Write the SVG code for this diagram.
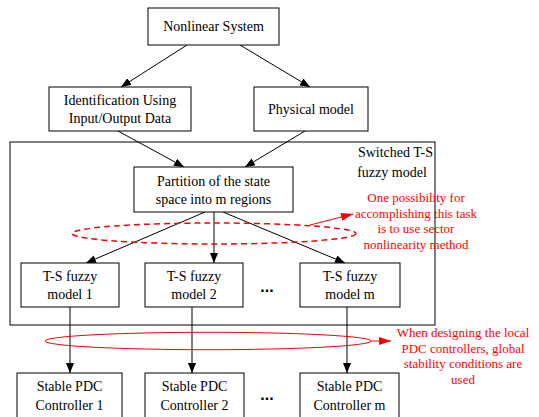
<svg xmlns="http://www.w3.org/2000/svg" width="539" height="417" viewBox="0 0 539 417">
<style>
.box{fill:#fff;stroke:#000;stroke-width:1}
.t{font-family:'Liberation Serif','DejaVu Serif',Tinos,serif;font-size:14px;fill:#000;text-anchor:middle}
.r{font-family:'Liberation Serif','DejaVu Serif',Tinos,serif;font-size:13px;fill:#ff0000;text-anchor:middle}
.c{stroke:#000;stroke-width:1;fill:none;marker-end:url(#ah)}
.dots{font-family:'Liberation Sans',Arial,sans-serif;font-size:16px;font-weight:bold;text-anchor:middle}
</style>
<defs>
<marker id="ah" markerWidth="10" markerHeight="8" refX="10" refY="4" orient="auto" markerUnits="userSpaceOnUse">
<path d="M0,0 L10,4 L0,8 Z" fill="#000"/>
</marker>
<marker id="rh" markerWidth="12" markerHeight="8" refX="12" refY="4" orient="auto" markerUnits="userSpaceOnUse">
<path d="M0,0 L12,4 L0,8 Z" fill="#ff0000"/>
</marker>
</defs>
<rect width="539" height="417" fill="#fff"/>
<g id="container">
<rect x="10" y="142" width="425" height="183" fill="none" stroke="#000"/>
<text class="t" x="433" y="157" style="text-anchor:end">Switched T-S</text>
<text class="t" x="392" y="177">fuzzy model</text>
</g>
<g id="connectors">
<line class="c" x1="187" y1="45" x2="121" y2="87"/>
<line class="c" x1="240" y1="45" x2="310" y2="87"/>
<line class="c" x1="118" y1="131" x2="184" y2="167"/>
<line class="c" x1="305" y1="131" x2="245" y2="167"/>
<line class="c" x1="205" y1="212" x2="86" y2="263"/>
<line class="c" x1="214" y1="212" x2="214" y2="263"/>
<line class="c" x1="223" y1="212" x2="345" y2="263"/>
<line class="c" x1="70" y1="307" x2="70" y2="373"/>
<line class="c" x1="192" y1="307" x2="192" y2="373"/>
<line class="c" x1="347" y1="307" x2="347" y2="373"/>
</g>
<g id="n-nonlinear"><rect class="box" x="148" y="8" width="131" height="37"/><text class="t" x="213.5" y="31">Nonlinear System</text></g>
<g id="n-ident"><rect class="box" x="49" y="87" width="142" height="44"/><text class="t" x="120" y="105">Identification Using</text><text class="t" x="120" y="123">Input/Output Data</text></g>
<g id="n-phys"><rect class="box" x="254" y="87" width="114" height="44"/><text class="t" x="311" y="114">Physical model</text></g>
<g id="n-partition"><rect class="box" x="134" y="167" width="159" height="45"/><text class="t" x="213.5" y="186">Partition of the state</text><text class="t" x="213.5" y="204">space into m regions</text></g>
<g id="n-ts1"><rect class="box" x="21" y="263" width="98" height="44"/><text class="t" x="70" y="281">T-S fuzzy</text><text class="t" x="70" y="299">model 1</text></g>
<g id="n-ts2"><rect class="box" x="145" y="263" width="98" height="44"/><text class="t" x="194" y="281">T-S fuzzy</text><text class="t" x="194" y="299">model 2</text></g>
<g id="n-tsm"><rect class="box" x="300" y="263" width="100" height="44"/><text class="t" x="350" y="281">T-S fuzzy</text><text class="t" x="350" y="299">model m</text></g>
<text class="dots" x="267" y="292">...</text>
<g id="n-pdc1"><rect class="box" x="17" y="373" width="105" height="50"/><text class="t" x="69.5" y="391">Stable PDC</text><text class="t" x="69.5" y="410">Controller 1</text></g>
<g id="n-pdc2"><rect class="box" x="145" y="373" width="99" height="50"/><text class="t" x="194.5" y="391">Stable PDC</text><text class="t" x="194.5" y="410">Controller 2</text></g>
<g id="n-pdcm"><rect class="box" x="300" y="373" width="99" height="50"/><text class="t" x="349.5" y="391">Stable PDC</text><text class="t" x="349.5" y="410">Controller m</text></g>
<text class="dots" x="267" y="400">...</text>
<g id="annot1">
<ellipse cx="214" cy="233.5" rx="142" ry="10.5" fill="none" stroke="#ff0000" stroke-width="1.5" stroke-dasharray="6,4"/>
<line x1="310" y1="225" x2="353" y2="214" stroke="#ff0000" stroke-width="1" marker-end="url(#rh)"/>
<text class="r" x="416" y="202">One possibility for</text>
<text class="r" x="416" y="218">accomplishing this task</text>
<text class="r" x="416" y="233">is to use sector</text>
<text class="r" x="416" y="249">nonlinearity method</text>
</g>
<g id="annot2">
<ellipse cx="208" cy="341" rx="163" ry="8.7" fill="none" stroke="#ff0000" stroke-width="1"/>
<line x1="371" y1="341" x2="391" y2="341" stroke="#ff0000" stroke-width="1" marker-end="url(#rh)"/>
<text class="r" x="463" y="337">When designing the local</text>
<text class="r" x="463" y="353">PDC controllers, global</text>
<text class="r" x="463" y="368">stability conditions are</text>
<text class="r" x="463" y="384">used</text>
</g>
</svg>
